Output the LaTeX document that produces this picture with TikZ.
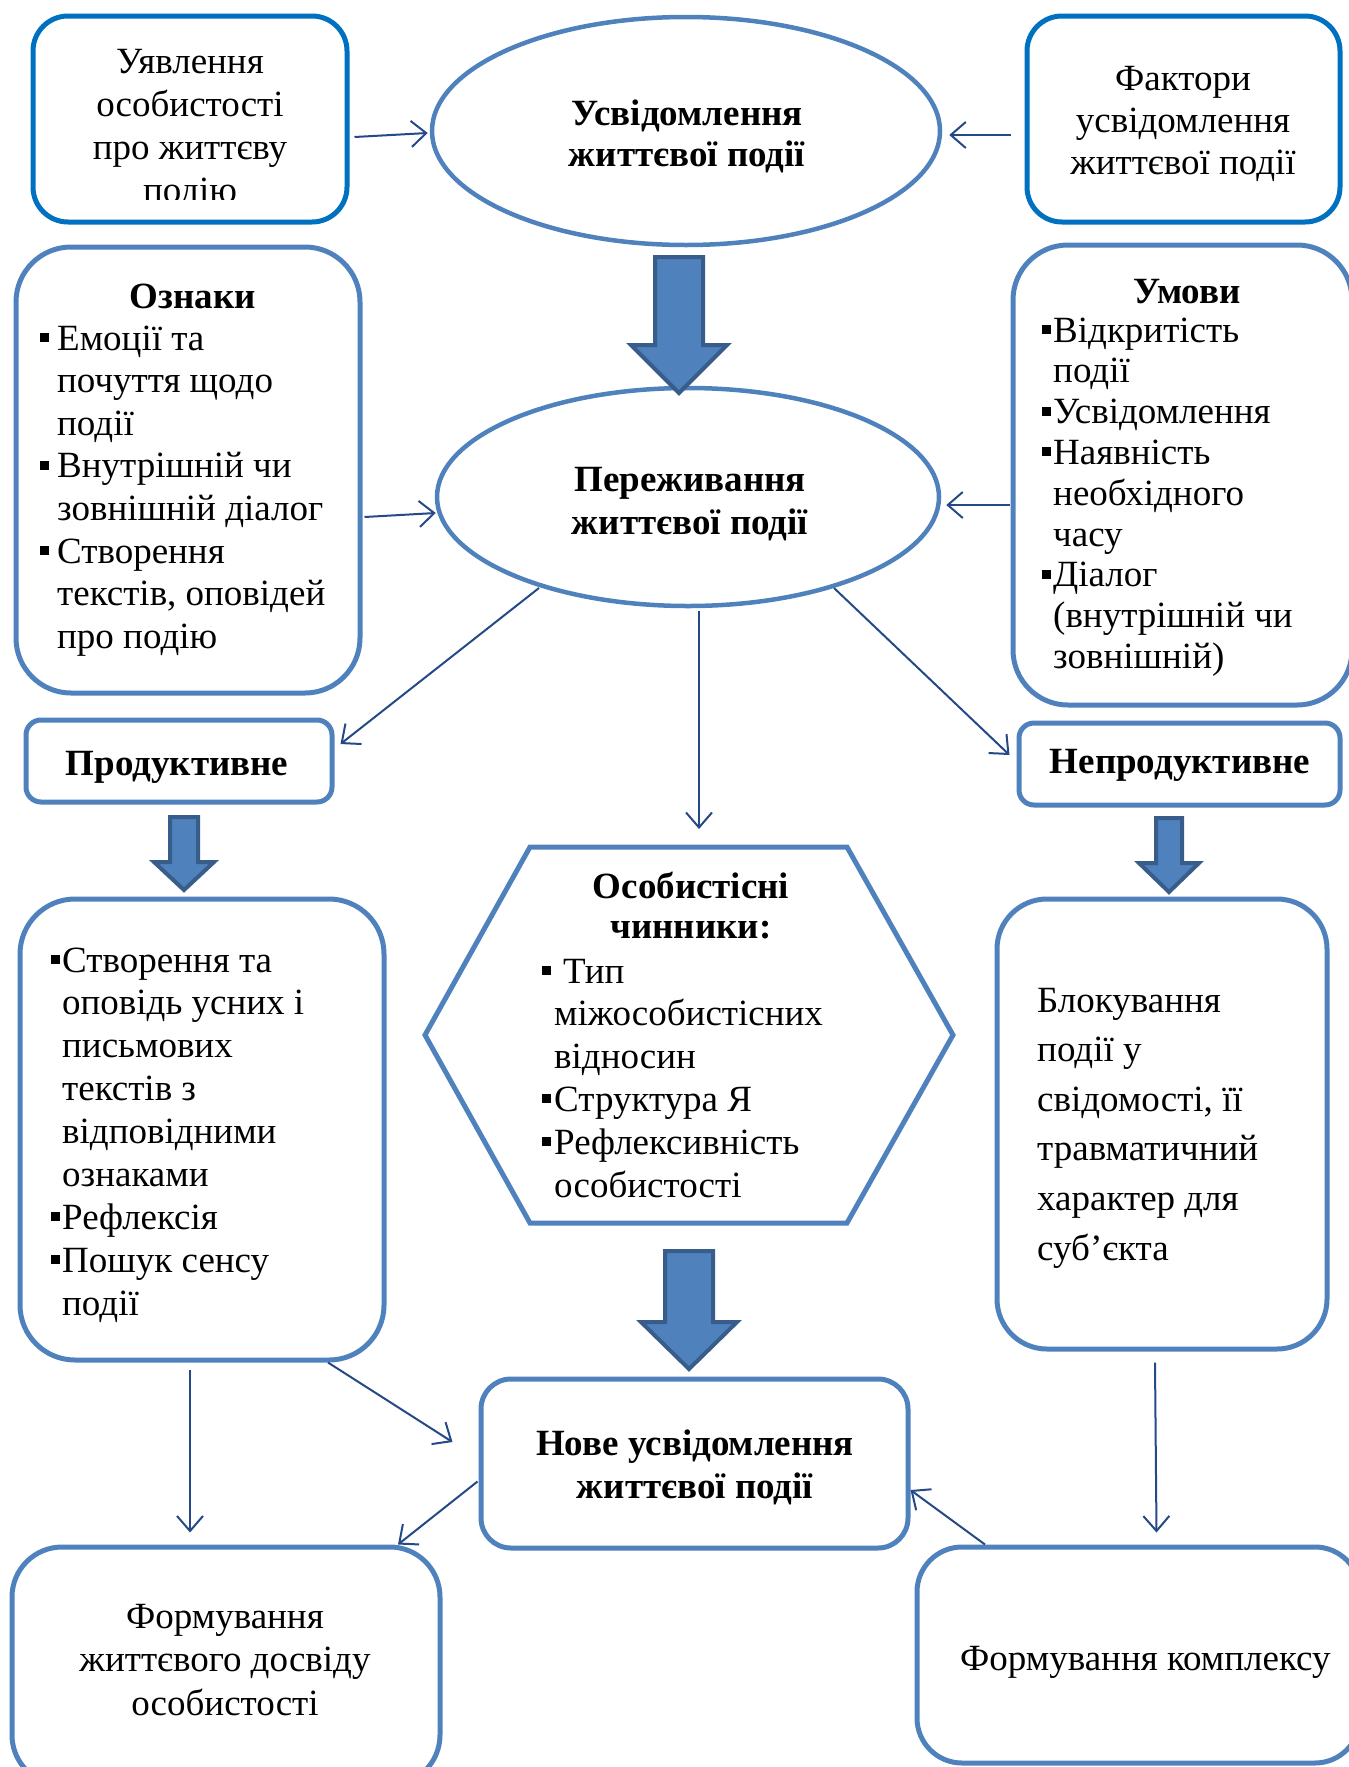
\documentclass[tikz,border=0pt]{standalone}
\usepackage{fontspec}
\setmainfont{Liberation Serif}
\usetikzlibrary{shapes.geometric,arrows.meta}
\definecolor{topblue}{RGB}{0,112,192}
\definecolor{boxblue}{RGB}{79,129,189}
\definecolor{conncol}{RGB}{37,73,135}
\definecolor{arrowedge}{RGB}{56,93,138}
\newcommand{\bul}{\rule[8pt]{9pt}{9pt}}
\newcommand{\bi}[1]{\makebox[#1pt][l]{\bul}}
\newcommand{\ci}[1]{\hspace*{#1pt}}
\newcommand{\txtfont}{\fontsize{37}{42.6}\selectfont}
\newcommand{\ctext}[3]{\parbox[t]{#1}{\centering\fontsize{37}{#2}\selectfont #3}}
\newcommand{\ltext}[3]{\parbox[t]{#1}{\raggedright\fontsize{37}{#2}\selectfont #3}}
\tikzset{
  roundbox/.style={draw=boxblue, line width=5pt, rounded corners=#1, inner sep=0pt},
  topbox/.style={draw=topblue, line width=5pt, rounded corners=#1, inner sep=0pt},
  ell/.style={ellipse, draw=boxblue, line width=4.5pt, inner sep=0pt},
  conn/.style={draw=conncol, line width=2pt, -{Straight Barb[length=15pt,width=26pt,line width=2pt]}},
  blockarrow/.style={fill=boxblue, draw=arrowedge, line width=4pt, line join=miter},
  hexline/.style={draw=boxblue, line width=5pt, line join=miter},
  lbl/.style={inner sep=0pt, anchor=base, font=\txtfont},
  lblw/.style={inner sep=0pt, anchor=base west, font=\txtfont}
}
\begin{document}
\begin{tikzpicture}[x=1pt,y=-1pt]
\useasboundingbox (0,0) rectangle (1349,1767);
\clip (0,0) rectangle (1349,1767);

% ---- boxes ----
\node[topbox=35pt, minimum width=314pt, minimum height=206pt] (b1) at (190,119) {};
\node[topbox=35pt, minimum width=313pt, minimum height=206pt] (b2) at (1183.5,119) {};
\node[ell, minimum width=508pt, minimum height=228pt] (e1) at (686,131) {};
\node[ell, minimum width=502pt, minimum height=218pt] (e2) at (688,497) {};
\node[roundbox=55pt, minimum width=344pt, minimum height=446pt] (o) at (188,470) {};
\node[roundbox=55pt, minimum width=339pt, minimum height=460pt] (u) at (1182.5,475) {};
\node[roundbox=15pt, minimum width=306pt, minimum height=82pt] (p) at (179,761) {};
\node[roundbox=15pt, minimum width=321pt, minimum height=82pt] (n) at (1179.5,764) {};
\node[roundbox=55pt, minimum width=364pt, minimum height=461pt] (lb) at (202,1129.5) {};
\node[roundbox=50pt, minimum width=330pt, minimum height=450pt] (rb) at (1162,1124) {};
\node[roundbox=30pt, minimum width=427pt, minimum height=169pt] (nw) at (694.5,1463.5) {};
\node[roundbox=50pt, minimum width=428pt, minimum height=238pt] (fl) at (226,1666) {};
\node[roundbox=45pt, minimum width=443pt, minimum height=216pt] (fr) at (1138.5,1655) {};

% ---- hexagon ----
\coordinate (h1) at (425,1035);
\coordinate (h2) at (530,847);
\coordinate (h3) at (847,847);
\coordinate (h4) at (953,1035);
\coordinate (h5) at (847,1223);
\coordinate (h6) at (530,1223);
\coordinate (hxin) at (699,829);
\draw[hexline] (h1) -- (h2) -- (h3) -- (h4) -- (h5) -- (h6) -- cycle;

% ---- connectors ----
\draw[conn] ([shift={(5,18)}]b1.east) -- ([shift={(-2,2)}]e1.west);
\draw[conn] ([shift={(-14,16)}]b2.west) -- ([shift={(7,4)}]e1.east);
\draw[conn] ([shift={(2,47)}]o.east) -- ([shift={(1,16)}]e2.west);
\draw[conn] ([shift={(-1,30)}]u.west) -- ([shift={(5,8)}]e2.east);
\draw[conn] ([shift={(-149,91)}]e2.center) -- ([shift={(6,-17)}]p.east);
\draw[conn] ([shift={(146,91)}]e2.center) -- ([shift={(-7,-9)}]n.west);
\draw[conn] ([shift={(11,3)}]e2.south) -- (hxin);
\draw[conn] ([shift={(126,0)}]lb.south) -- ([shift={(-26,-21.5)}]nw.west);
\draw[conn] ([shift={(-1,18)}]nw.west) -- ([shift={(172,0)}]fl.north);
\draw[conn] ([shift={(-12,7)}]lb.south) -- ([shift={(-36,-12)}]fl.north);
\draw[conn] ([shift={(-7,11)}]rb.south) -- ([shift={(18,-12)}]fr.north);
\draw[conn] ([shift={(-153.5,0)}]fr.north) -- ([shift={(0,26.5)}]nw.east);

% ---- block arrows ----
\draw[blockarrow] (655,257) -- (703,257) -- (703,345) -- (727,345) -- (679,393) -- (631,345) -- (655,345) -- cycle;
\draw[blockarrow] (665,1251) -- (713,1251) -- (713,1322) -- (737,1322) -- (689,1369) -- (641,1322) -- (665,1322) -- cycle;
\draw[blockarrow] (170,817) -- (198,817) -- (198,862) -- (214,862) -- (184,890) -- (154,862) -- (170,862) -- cycle;
\draw[blockarrow] (1156,818) -- (1182,818) -- (1182,863) -- (1199,863) -- (1169,892) -- (1139,863) -- (1156,863) -- cycle;

% ---- texts ----
\begin{scope}
\clip (0,0) rectangle (1349,199);
\node[lbl] (t1) at (190,73) {\ctext{300pt}{43.3}{Уявлення\\особистості\\про життєву\\подію}};
\end{scope}
\node[lbl] (t2) at (1183,90) {\ctext{300pt}{42}{Фактори\\усвідомлення\\життєвої події}};
\node[lbl] (te1) at (687,125) {\ctext{450pt}{41}{\bfseries Усвідомлення\\життєвої події}};
\node[lbl] (te2) at (690,491) {\ctext{450pt}{43}{\bfseries Переживання\\життєвої події}};

\node[lbl] (to1) at (193,308) {\bfseries Ознаки};
\node[lblw] (to2) at (40,350) {\ltext{400pt}{42.6}{\bi{17}Емоції та\\\ci{17}почуття щодо\\\ci{17}події\\\bi{17}Внутрішній чи\\\ci{17}зовнішній діалог\\\bi{17}Створення\\\ci{17}текстів, оповідей\\\ci{17}про подію}};

\node[lbl] (tu1) at (1187,303) {\bfseries Умови};
\node[lblw] (tu2) at (1042,342) {\ltext{400pt}{40.8}{\bi{11}Відкритість\\\ci{11}події\\\bi{11}Усвідомлення\\\bi{11}Наявність\\\ci{11}необхідного\\\ci{11}часу\\\bi{11}Діалог\\\ci{11}(внутрішній чи\\\ci{11}зовнішній)}};

\node[lbl] (tp) at (177,775) {\bfseries Продуктивне};
\node[lbl] (tn) at (1180,773) {\bfseries Непродуктивне};

\node[lbl] (th1) at (691,898) {\ctext{400pt}{40}{\bfseries Особистісні\\чинники:}};
\node[lblw] (th2) at (542,983) {\ltext{420pt}{42.8}{\bi{21}Тип\\\ci{12}міжособистісних\\\ci{12}відносин\\\bi{12}Структура Я\\\bi{12}Рефлексивність\\\ci{12}особистості}};

\node[lblw] (tlb) at (51,972) {\ltext{400pt}{42.9}{\bi{11}Створення та\\\ci{11}оповідь усних і\\\ci{11}письмових\\\ci{11}текстів з\\\ci{11}відповідними\\\ci{11}ознаками\\\bi{11}Рефлексія\\\bi{11}Пошук сенсу\\\ci{11}події}};

\node[lblw] (trb) at (1037,1012) {\ltext{400pt}{49.6}{Блокування\\події у\\свідомості, її\\травматичний\\характер для\\суб’єкта}};

\node[lbl] (tnw) at (695,1455) {\ctext{420pt}{43}{\bfseries Нове усвідомлення\\життєвої події}};
\node[lbl] (tfl) at (225,1628) {\ctext{420pt}{43.5}{Формування\\життєвого досвіду\\особистості}};
\node[lblw] (tfr) at (960,1670) {Формування комплексу};
\end{tikzpicture}
\end{document}
